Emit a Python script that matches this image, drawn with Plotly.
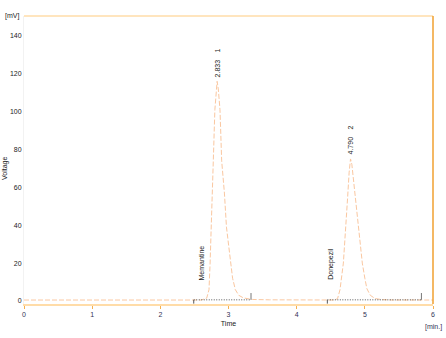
import plotly.graph_objects as go

# Chromatogram signal (min, mV)
time_min = [0.0, 1.0, 2.0, 2.5, 2.60, 2.68, 2.714, 2.73, 2.743, 2.76, 2.777, 2.80, 2.817, 2.833,
            2.85, 2.875, 2.90, 2.94, 2.97, 3.02, 3.06, 3.10, 3.15, 3.22, 3.35, 3.6, 4.0, 4.4,
            4.55, 4.60, 4.636, 4.685, 4.72, 4.748, 4.77, 4.79, 4.81, 4.835, 4.856, 4.88, 4.905,
            4.93, 4.963, 5.00, 5.03, 5.08, 5.15, 5.25, 5.4, 5.7, 6.0]
voltage_mv = [0.5, 0.5, 0.5, 0.5, 0.5, 1.5, 6, 20, 39, 58, 74, 101, 112, 116,
              112, 101, 74, 57, 39, 22, 12, 6, 3, 1.6, 0.8, 0.6, 0.5, 0.5,
              0.5, 1.2, 6, 20, 37, 55, 68, 75, 72, 63, 55, 46, 37,
              29, 20, 12, 6.5, 3, 1.3, 0.7, 0.5, 0.5, 0.5]

# Peaks
peak_rt = [2.833, 4.790]
peak_height = [116, 75]
peak_num = ["1", "2"]
peak_rt_label = ["2.833", "4.790"]
compound = ["Memantine", "Donepezil"]
compound_pos = [2.61, 4.50]

# Integration baselines (start, end)
integ_start = [2.49, 4.45]
integ_end = [3.33, 5.83]
integ_level = 0.6

x_ticks = [0, 1, 2, 3, 4, 5, 6]
y_ticks = [0, 20, 40, 60, 80, 100, 120, 140]

fig = go.Figure()
fig.add_trace(go.Scatter(x=time_min, y=voltage_mv, mode="lines",
                         line=dict(color="#fac7a0", width=1, dash="5px,2px"),
                         hoverinfo="skip", showlegend=False))

for s, e in zip(integ_start, integ_end):
    fig.add_trace(go.Scatter(x=[s, e], y=[integ_level, integ_level], mode="lines",
                             line=dict(color="#555555", width=1, dash="1px,1.5px"),
                             showlegend=False, hoverinfo="skip"))
    fig.add_trace(go.Scatter(x=[s, s], y=[integ_level, -1.4], mode="lines",
                             line=dict(color="#555555", width=1),
                             showlegend=False, hoverinfo="skip"))
    fig.add_trace(go.Scatter(x=[e, e], y=[integ_level, 4.2], mode="lines",
                             line=dict(color="#777777", width=1),
                             showlegend=False, hoverinfo="skip"))

font_small = dict(family="Liberation Sans, Arial", size=7, color="#222222")
for rt, h, n, lab, comp, cp in zip(peak_rt, peak_height, peak_num, peak_rt_label,
                                   compound, compound_pos):
    fig.add_annotation(x=rt, y=h, text=lab, textangle=-90, showarrow=False,
                       xanchor="center", yanchor="bottom", yshift=2, font=font_small)
    fig.add_annotation(x=rt, y=h, text=n, textangle=-90, showarrow=False,
                       xanchor="center", yanchor="bottom", yshift=27, font=font_small)
    fig.add_annotation(x=cp, y=10, text=comp, textangle=-90, showarrow=False,
                       xanchor="center", yanchor="bottom", font=font_small)

fig.add_annotation(xref="paper", yref="paper", x=-0.03, y=1.0, text="[mV]",
                   showarrow=False, xanchor="center", yanchor="middle", font=font_small)
fig.add_annotation(xref="paper", yref="paper", x=1.0, y=-0.06, text="[min.]",
                   showarrow=False, xanchor="center", yanchor="top",
                   font=dict(family="Liberation Sans, Arial", size=7, color="#333355"))
fig.add_annotation(xref="paper", yref="paper", x=-0.048, y=0.47, text="Voltage",
                   textangle=-90, showarrow=False, xanchor="center", yanchor="middle",
                   font=font_small)

# Frame lines: top light orange, right orange
fig.add_shape(type="line", xref="paper", yref="paper", x0=0, x1=1, y0=1, y1=1,
              line=dict(color="#ffdca8", width=1.5))
fig.add_shape(type="line", xref="paper", yref="paper", x0=1, x1=1, y0=0, y1=1,
              line=dict(color="#f0a030", width=1.5))

fig.update_layout(
    width=446, height=338,
    margin=dict(l=24, r=13, t=16, b=34),
    paper_bgcolor="white", plot_bgcolor="white",
    font=dict(family="Liberation Sans, Arial", size=7, color="#222222"),
    xaxis=dict(range=[0, 6], tickvals=x_ticks, showgrid=False, zeroline=False,
               automargin=False,
               showline=True, linecolor="#ffdca8", linewidth=1.5,
               ticks="outside", ticklen=3, tickcolor="#f5b050", tickwidth=1,
               tickfont=dict(size=7, color="#333355"),
               title=dict(text="Time", font=dict(size=7, color="#222222"), standoff=4)),
    yaxis=dict(range=[-1.6, 150.5], tickvals=y_ticks, showgrid=False, zeroline=False,
               automargin=False,
               showline=True, linecolor="#f2f2f2", linewidth=1,
               ticks="", tickfont=dict(size=7, color="#222222")),
    showlegend=False,
)

fig.write_html("out.html")
